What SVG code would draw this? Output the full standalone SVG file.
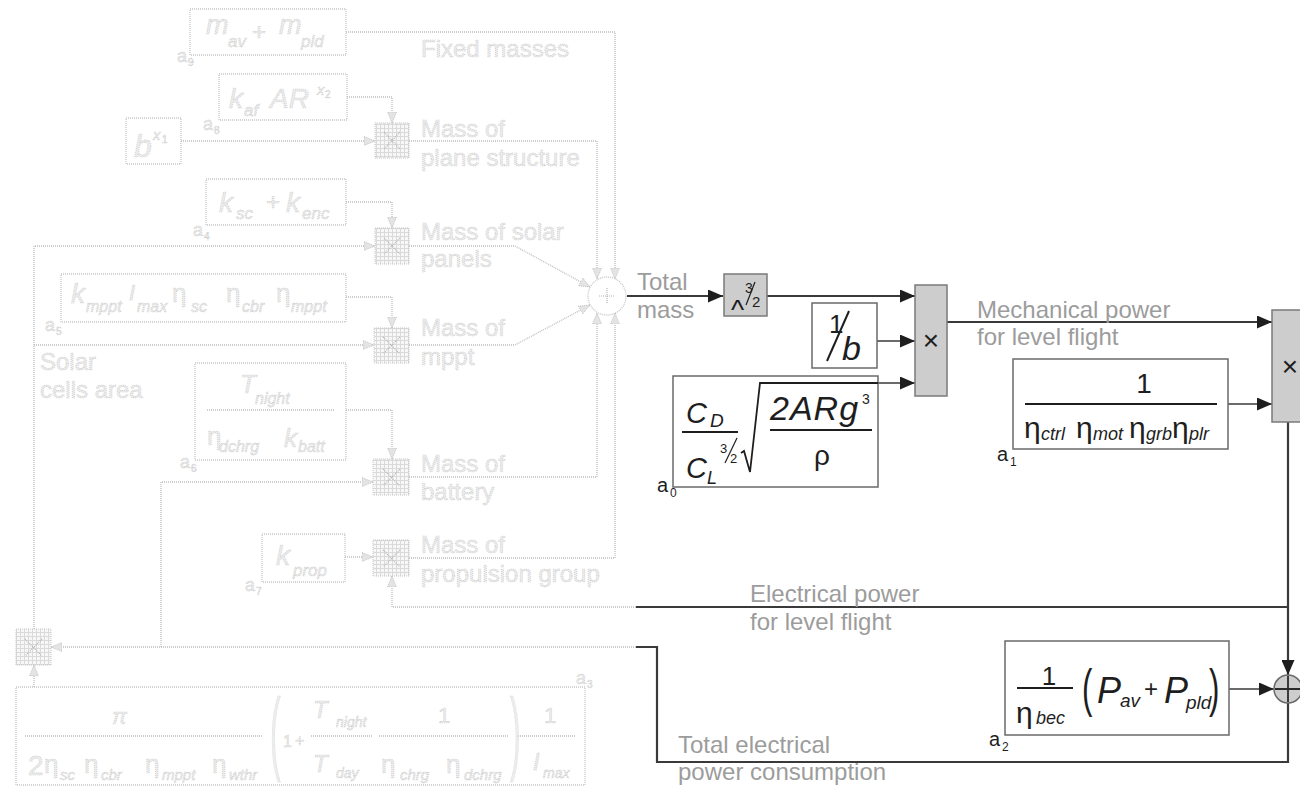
<svg xmlns="http://www.w3.org/2000/svg" width="1300" height="788" viewBox="0 0 1300 788">
<defs>
<style>
text{font-family:"Liberation Sans",Arial,sans-serif}
.dk{fill:none;stroke:#3a3a3a;stroke-width:2.2}
.dt{fill:none;stroke:#3a3a3a;stroke-width:1.6}
.bx{fill:#fff;stroke:#6a6a6a;stroke-width:1.5}
.gb{fill:#cdcdcd;stroke:#7a7a7a;stroke-width:1.5}
.lb{font-size:24px;fill:#9c9c9c}
.m{fill:#1e1e1e}
.i{font-style:italic}
.fl{fill:none;stroke:#bdbdbd;stroke-width:1.3;stroke-dasharray:1 1}
.fb{fill:#fff;stroke:#c6c6c6;stroke-width:1.3;stroke-dasharray:1 1}
.ft{fill:#ececec;stroke:#c2c2c2;stroke-width:0.6;stroke-dasharray:1 1}
.fx{fill:url(#hatch);stroke:#c6c6c6;stroke-width:1;stroke-dasharray:1 1}
.fxl{stroke:#b4b4b4;stroke-width:1.2;stroke-dasharray:1 1}
</style>
<pattern id="hatch" width="4" height="4" patternUnits="userSpaceOnUse"><rect width="4" height="4" fill="#f7f7f7"/><rect width="1" height="4" fill="#dadada"/><rect width="4" height="1" fill="#dadada"/></pattern>
<marker id="ad" markerWidth="15" markerHeight="13" refX="15" refY="6.5" orient="auto" markerUnits="userSpaceOnUse"><path d="M0,0 L15,6.5 L0,13 z" fill="#1e1e1e"/></marker>
<marker id="af" markerWidth="11" markerHeight="11" refX="11" refY="5.5" orient="auto" markerUnits="userSpaceOnUse"><path d="M0,1 L11,5.5 L0,10 z" fill="#e4e4e4" stroke="#b8b8b8" stroke-width="0.8" stroke-dasharray="1 1"/></marker>
</defs>
<rect width="1300" height="788" fill="#fff"/>

<g id="connectors">
<path class="fl" d="M346,32 H615 V279" marker-end="url(#af)"/>
<path class="fl" d="M347,97 H392 V123" marker-end="url(#af)"/>
<path class="fl" d="M181,141 H375" marker-end="url(#af)"/>
<path class="fl" d="M409,141 H597 V279" marker-end="url(#af)"/>
<path class="fl" d="M346,202 H392 V228" marker-end="url(#af)"/>
<path class="fl" d="M34,629 V246 H375" marker-end="url(#af)"/>
<path class="fl" d="M409,246 H515 L590,287" marker-end="url(#af)"/>
<path class="fl" d="M346,297 H392 V328" marker-end="url(#af)"/>
<path class="fl" d="M34,345 H374" marker-end="url(#af)"/>
<path class="fl" d="M409,345 H515 L590,305" marker-end="url(#af)"/>
<path class="fl" d="M346,410 H392 V459" marker-end="url(#af)"/>
<path class="fl" d="M161,647 V482 H373" marker-end="url(#af)"/>
<path class="fl" d="M409,477 H597 V313" marker-end="url(#af)"/>
<path class="fl" d="M345,557 H373" marker-end="url(#af)"/>
<path class="fl" d="M409,558 H615 V313" marker-end="url(#af)"/>
<path class="fl" d="M638,607 H392 V576" marker-end="url(#af)"/>
<path class="fl" d="M636,647 H51" marker-end="url(#af)"/>
<path class="fl" d="M34,687 V665" marker-end="url(#af)"/>

<path class="dk" d="M627,296 H723" marker-end="url(#ad)"/>
<path class="dk" d="M767,296 H915" marker-end="url(#ad)"/>
<path class="dt" d="M877,341 H915" marker-end="url(#ad)"/>
<path class="dt" d="M878,383 H915" marker-end="url(#ad)"/>
<path class="dk" d="M947,322 H1272" marker-end="url(#ad)"/>
<path class="dt" d="M1228,404 H1272" marker-end="url(#ad)"/>
<path class="dk" d="M1288,422 V675" marker-end="url(#ad)"/>
<path class="dk" d="M1288,607 H636"/>
<path class="dt" d="M1229,689 H1274" marker-end="url(#ad)"/>
<path class="dk" d="M1288,703 V762 H657 V647 H636"/>
</g>

<g id="labels">
<text class="ft" font-size="24" x="421" y="57">Fixed masses</text>
<text class="ft" font-size="24" x="421" y="137">Mass of</text>
<text class="ft" font-size="24" x="421" y="166">plane structure</text>
<text class="ft" font-size="24" x="421" y="240">Mass of solar</text>
<text class="ft" font-size="24" x="421" y="267">panels</text>
<text class="ft" font-size="24" x="421" y="336">Mass of</text>
<text class="ft" font-size="24" x="421" y="365">mppt</text>
<text class="ft" font-size="24" x="421" y="472">Mass of</text>
<text class="ft" font-size="24" x="421" y="500">battery</text>
<text class="ft" font-size="24" x="421" y="553">Mass of</text>
<text class="ft" font-size="24" x="421" y="582">propulsion group</text>
<text class="ft" font-size="24" x="40" y="370">Solar</text>
<text class="ft" font-size="24" x="40" y="398">cells area</text>
<text class="lb" x="637" y="290">Total</text>
<text class="lb" x="637" y="318">mass</text>
<text class="lb" x="977" y="318">Mechanical power</text>
<text class="lb" x="977" y="345">for level flight</text>
<text class="lb" x="750" y="602">Electrical power</text>
<text class="lb" x="750" y="630">for level flight</text>
<text class="lb" x="678" y="753">Total electrical</text>
<text class="lb" x="678" y="780">power consumption</text>
</g>

<g id="n-fixed">
<rect class="fb" x="190" y="9" width="156" height="46"/>
<text class="ft i" font-size="27" x="206" y="34">m</text>
<text class="ft i" font-size="17" x="228" y="47">av</text>
<text class="ft" font-size="24" x="252" y="40">+</text>
<text class="ft i" font-size="27" x="279" y="34">m</text>
<text class="ft i" font-size="17" x="301" y="47">pld</text>
<text class="ft" font-size="18" x="177" y="62">a</text><text class="ft" font-size="10" x="188" y="66">9</text>
</g>

<g id="n-kaf">
<rect class="fb" x="219" y="74" width="128" height="46"/>
<text class="ft i" font-size="28" x="229" y="108">k</text>
<text class="ft i" font-size="17" x="244" y="116">af</text>
<text class="ft i" font-size="28" x="270" y="108">AR</text>
<text class="ft i" font-size="15" x="317" y="95">x</text><text class="ft" font-size="10" x="325" y="98">2</text>
<text class="ft" font-size="18" x="203" y="130">a</text><text class="ft" font-size="10" x="214" y="134">8</text>
</g>

<g id="n-bx1">
<rect class="fb" x="126" y="118" width="55" height="46"/>
<text class="ft i" font-size="32" x="134" y="157">b</text>
<text class="ft i" font-size="15" x="153" y="140">x</text><text class="ft" font-size="10" x="162" y="143">1</text>
</g>

<g id="n-mul1">
<rect class="fx" x="375" y="123" width="34" height="35"/>
<path class="fxl" d="M384,132 L400,149 M400,132 L384,149"/>
</g>

<g id="n-ksc">
<rect class="fb" x="206" y="179" width="140" height="46"/>
<text class="ft i" font-size="28" x="219" y="212">k</text>
<text class="ft i" font-size="17" x="236" y="219">sc</text>
<text class="ft" font-size="24" x="266" y="210">+</text>
<text class="ft i" font-size="28" x="286" y="212">k</text>
<text class="ft i" font-size="17" x="302" y="219">enc</text>
<text class="ft" font-size="18" x="193" y="236">a</text><text class="ft" font-size="10" x="204" y="240">4</text>
</g>

<g id="n-mul2">
<rect class="fx" x="375" y="228" width="34" height="36"/>
<path class="fxl" d="M384,238 L400,254 M400,238 L384,254"/>
</g>

<g id="n-kmppt">
<rect class="fb" x="61" y="274" width="285" height="48"/>
<text class="ft i" font-size="28" x="71" y="303">k</text>
<text class="ft i" font-size="16" x="86" y="312">mppt</text>
<text class="ft i" font-size="22" x="129" y="300">I</text>
<text class="ft i" font-size="16" x="137" y="312">max</text>
<text class="ft" font-size="26" x="172" y="302">η</text>
<text class="ft i" font-size="16" x="191" y="312">sc</text>
<text class="ft" font-size="26" x="226" y="302">η</text>
<text class="ft i" font-size="16" x="242" y="312">cbr</text>
<text class="ft" font-size="26" x="276" y="302">η</text>
<text class="ft i" font-size="16" x="291" y="312">mppt</text>
<text class="ft" font-size="18" x="45" y="331">a</text><text class="ft" font-size="10" x="56" y="335">5</text>
</g>

<g id="n-mul3">
<rect class="fx" x="374" y="328" width="35" height="35"/>
<path class="fxl" d="M383,337 L400,354 M400,337 L383,354"/>
</g>

<g id="n-tnight">
<rect class="fb" x="195" y="363" width="151" height="97"/>
<text class="ft i" font-size="26" x="240" y="393">T</text>
<text class="ft i" font-size="16" x="255" y="404">night</text>
<path class="fl" d="M207,410 H335"/>
<text class="ft" font-size="26" x="207" y="445">η</text>
<text class="ft i" font-size="16" x="219" y="452">dchrg</text>
<text class="ft i" font-size="26" x="284" y="447">k</text>
<text class="ft i" font-size="16" x="298" y="452">batt</text>
<text class="ft" font-size="18" x="180" y="468">a</text><text class="ft" font-size="10" x="191" y="472">6</text>
</g>

<g id="n-mul4">
<rect class="fx" x="373" y="459" width="36" height="36"/>
<path class="fxl" d="M383,469 L400,486 M400,469 L383,486"/>
</g>

<g id="n-kprop">
<rect class="fb" x="262" y="534" width="83" height="48"/>
<text class="ft i" font-size="28" x="276" y="565">k</text>
<text class="ft i" font-size="17" x="293" y="576">prop</text>
<text class="ft" font-size="18" x="245" y="591">a</text><text class="ft" font-size="10" x="256" y="595">7</text>
</g>

<g id="n-mul5">
<rect class="fx" x="373" y="540" width="36" height="36"/>
<path class="fxl" d="M383,550 L400,567 M400,550 L383,567"/>
</g>

<g id="n-mul6">
<rect class="fx" x="16" y="629" width="35" height="36"/>
<path class="fxl" d="M25,639 L42,656 M42,639 L25,656"/>
</g>

<g id="n-a3">
<rect class="fb" x="16" y="687" width="569" height="98"/>
<text class="ft i" font-size="22" x="112" y="724">π</text>
<path class="fl" d="M25,736 H263"/>
<text class="ft" font-size="28" x="28" y="775">2</text>
<text class="ft" font-size="26" x="44" y="773">η</text><text class="ft i" font-size="15" x="60" y="780">sc</text>
<text class="ft" font-size="26" x="84" y="773">η</text><text class="ft i" font-size="15" x="101" y="780">cbr</text>
<text class="ft" font-size="26" x="145" y="773">η</text><text class="ft i" font-size="15" x="162" y="780">mppt</text>
<text class="ft" font-size="26" x="212" y="773">η</text><text class="ft i" font-size="15" x="229" y="780">wthr</text>
<text class="ft" font-size="92" transform="translate(270,763) scale(0.35,1)">(</text>
<text class="ft" font-size="16" x="283" y="747">1</text>
<text class="ft" font-size="16" x="295" y="746">+</text>
<text class="ft i" font-size="24" x="313" y="718">T</text><text class="ft i" font-size="14" x="336" y="727">night</text>
<path class="fl" d="M311,736 H372"/>
<text class="ft i" font-size="24" x="313" y="772">T</text><text class="ft i" font-size="14" x="336" y="778">day</text>
<text class="ft" font-size="22" x="438" y="723">1</text>
<path class="fl" d="M379,736 H509"/>
<text class="ft" font-size="26" x="381" y="773">η</text><text class="ft i" font-size="15" x="400" y="780">chrg</text>
<text class="ft" font-size="26" x="446" y="773">η</text><text class="ft i" font-size="15" x="464" y="780">dchrg</text>
<text class="ft" font-size="92" transform="translate(510,763) scale(0.35,1)">)</text>
<text class="ft" font-size="22" x="544" y="723">1</text>
<path class="fl" d="M518,736 H575"/>
<text class="ft i" font-size="24" x="533" y="770">I</text><text class="ft i" font-size="14" x="543" y="778">max</text>
<text class="ft" font-size="18" x="576" y="684">a</text><text class="ft" font-size="10" x="587" y="688">3</text>
</g>

<g id="n-sum1">
<circle cx="607" cy="296" r="19" fill="#fff" stroke="#c4c4c4" stroke-width="1.3" stroke-dasharray="1 1"/>
<path class="fxl" d="M599,296 H615 M607,288 V304"/>
</g>

<g id="n-pow">
<rect class="gb" x="724" y="274" width="43" height="42"/>
<text class="m" font-size="28" x="731" y="319">^</text>
<text class="m" font-size="14" x="745" y="293">3</text>
<path d="M755,282 L746,305" stroke="#1e1e1e" stroke-width="1.2"/>
<text class="m" font-size="15" x="752" y="307">2</text>
</g>

<g id="n-invb">
<rect class="bx" x="812" y="303" width="65" height="65"/>
<text class="m" font-size="26" x="829" y="333">1</text>
<path d="M849,311 L827,361" stroke="#1e1e1e" stroke-width="2"/>
<text class="m i" font-size="34" x="842" y="360">b</text>
</g>

<g id="n-mulA">
<rect class="gb" x="915" y="285" width="32" height="111"/>
<text class="m" font-size="28" x="931" y="350" text-anchor="middle">×</text>
</g>

<g id="n-a0">
<rect class="bx" x="673" y="376" width="205" height="111"/>
<text class="m i" font-size="29" x="686" y="423">C</text>
<text class="m i" font-size="19" x="710" y="427">D</text>
<path d="M682,432 H738" stroke="#1e1e1e" stroke-width="2"/>
<text class="m i" font-size="29" x="686" y="478">C</text>
<text class="m i" font-size="18" x="707" y="484">L</text>
<text class="m" font-size="13" x="720" y="453">3</text>
<path d="M737,438 L725,463" stroke="#1e1e1e" stroke-width="1.2"/>
<text class="m" font-size="13" x="730" y="463">2</text>
<path d="M741,453 L744,451 L750,472 L760,383 H878" fill="none" stroke="#1e1e1e" stroke-width="1.8"/>
<text class="m i" font-size="34" x="770" y="420" letter-spacing="1">2ARg</text>
<text class="m" font-size="14" x="862" y="404">3</text>
<path d="M770,430 H872" stroke="#1e1e1e" stroke-width="2"/>
<text class="m" font-size="28" x="822" y="465" text-anchor="middle">ρ</text>
<text class="m" font-size="20" x="657" y="492">a</text><text class="m" font-size="12" x="670" y="497">0</text>
</g>

<g id="n-a1">
<rect class="bx" x="1013" y="359" width="215" height="90"/>
<text class="m" font-size="28" x="1144" y="393" text-anchor="middle">1</text>
<path d="M1025,404 H1217" stroke="#1e1e1e" stroke-width="2"/>
<text class="m" font-size="30" x="1024" y="438">η</text><text class="m i" font-size="18" x="1041" y="440">ctrl</text>
<text class="m" font-size="30" x="1076" y="438">η</text><text class="m i" font-size="18" x="1093" y="440">mot</text>
<text class="m" font-size="30" x="1129" y="438">η</text><text class="m i" font-size="18" x="1146" y="440">grb</text>
<text class="m" font-size="30" x="1172" y="438">η</text><text class="m i" font-size="18" x="1189" y="440">plr</text>
<text class="m" font-size="20" x="997" y="461">a</text><text class="m" font-size="12" x="1010" y="466">1</text>
</g>

<g id="n-mulB">
<rect class="gb" x="1272" y="310" width="40" height="112"/>
<text class="m" font-size="28" x="1290" y="376" text-anchor="middle">×</text>
</g>

<g id="n-a2">
<rect class="bx" x="1005" y="641" width="224" height="94"/>
<text class="m" font-size="26" x="1049" y="685" text-anchor="middle">1</text>
<path d="M1017,688 H1073" stroke="#1e1e1e" stroke-width="2"/>
<text class="m" font-size="30" x="1016" y="723">η</text><text class="m i" font-size="18" x="1036" y="724">bec</text>
<text class="m" font-size="52" transform="translate(1082,706) scale(0.6,1)">(</text>
<text class="m i" font-size="36" x="1097" y="703">P</text><text class="m i" font-size="19" x="1120" y="707">av</text>
<text class="m" font-size="24" x="1144" y="697">+</text>
<text class="m i" font-size="36" x="1164" y="703">P</text><text class="m i" font-size="19" x="1186" y="709">pld</text>
<text class="m" font-size="52" transform="translate(1209,706) scale(0.6,1)">)</text>
<text class="m" font-size="20" x="989" y="746">a</text><text class="m" font-size="12" x="1002" y="751">2</text>
</g>

<g id="n-sum2">
<circle cx="1288" cy="689" r="14" fill="#cdcdcd" stroke="#6a6a6a" stroke-width="1.5"/>
<path d="M1275,689 H1301 M1288,676 V702" stroke="#2a2a2a" stroke-width="1.8"/>
</g>
</svg>
